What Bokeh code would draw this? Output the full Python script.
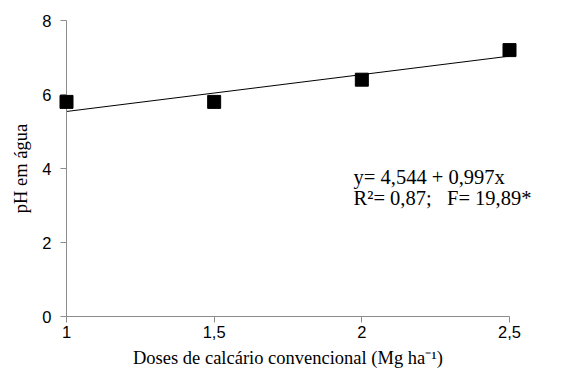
from bokeh.plotting import figure
from bokeh.models import Range1d, FixedTicker
from bokeh.core.properties import value
from bokeh.embed import file_html
from bokeh.resources import INLINE

# Data
doses = [1.0, 1.5, 2.0, 2.5]
ph_agua = [5.8, 5.8, 6.4, 7.2]
x_ticks = [1, 1.5, 2, 2.5]
x_tick_labels = {1: "1", 1.5: "1,5", 2: "2", 2.5: "2,5"}
y_ticks = [0, 2, 4, 6, 8]
intercept = 4.544
slope = 0.997
fit_x = [1.0, 2.5]
fit_y = [intercept + slope * v for v in fit_x]
eq_texts = ["y= 4,544 + 0,997x", "R²= 0,87;\u00a0\u00a0\u00a0F= 19,89*"]
eq_x = [1.972, 1.972]
eq_y = [3.76, 3.2]

p = figure(width=563, height=370, output_backend="svg", toolbar_location=None,
           x_range=Range1d(1, 2.5), y_range=Range1d(0, 8),
           min_border_left=66, min_border_right=54, min_border_top=20, min_border_bottom=54)
p.outline_line_color = None
p.xgrid.visible = False
p.ygrid.visible = False
p.background_fill_color = "white"
p.border_fill_color = "white"

axis_color = "#8c8c8c"
for ax in (p.xaxis[0], p.yaxis[0]):
    ax.axis_line_color = axis_color
    ax.major_tick_line_color = axis_color
    ax.minor_tick_line_color = None
    ax.major_tick_in = 0
    ax.major_tick_out = 6
    ax.major_label_text_font = "Liberation Sans"
    ax.major_label_text_font_size = "16.5px"
    ax.major_label_text_color = "black"
    ax.axis_label_text_font = "Liberation Serif"
    ax.axis_label_text_font_style = "normal"
    ax.axis_label_text_font_size = "18.5px"
    ax.axis_label_text_color = "black"

p.xaxis.ticker = FixedTicker(ticks=x_ticks)
p.xaxis.major_label_overrides = x_tick_labels
p.xaxis.major_label_standoff = 3
p.xaxis.axis_label = "Doses de calcário convencional (Mg ha⁻¹)"
p.xaxis.axis_label_standoff = 7

p.yaxis.ticker = FixedTicker(ticks=y_ticks)
p.yaxis.major_label_standoff = 9
p.yaxis.axis_label = "pH em água"
p.yaxis.axis_label_standoff = 8

p.line(fit_x, fit_y, line_color="black", line_width=1)
sq = p.scatter(doses, ph_agua, marker="square", size=13, fill_color="black", line_color="black")
sq.level = "overlay"

tx = p.text(x=eq_x, y=eq_y, text=eq_texts, text_font=value("Liberation Serif"),
            text_font_size="20.5px", text_baseline="middle", text_align="left", text_color="black")
tx.level = "overlay"

open("out.html", "w").write(file_html(p, INLINE))
